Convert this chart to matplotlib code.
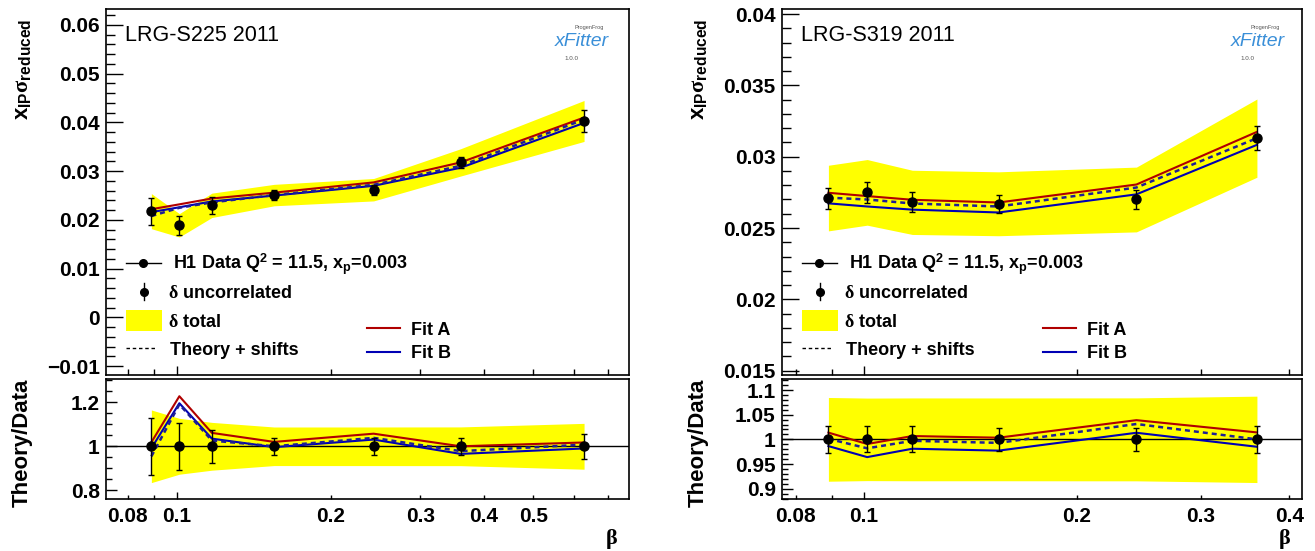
import matplotlib
matplotlib.use("Agg")
import matplotlib.pyplot as plt
import numpy as np
from matplotlib.ticker import FixedLocator, MultipleLocator, FuncFormatter
from matplotlib.transforms import Affine2D
from matplotlib.patches import Rectangle

plt.rcParams['font.family'] = ['Liberation Sans', 'DejaVu Sans']
plt.rcParams['font.weight'] = 'bold'
plt.rcParams['mathtext.fontset'] = 'custom'
plt.rcParams['mathtext.rm'] = 'Liberation Sans:bold'
plt.rcParams['mathtext.bf'] = 'Liberation Sans:bold'
plt.rcParams['mathtext.it'] = 'Liberation Serif'

# left panel: LRG-S225
beta_l = [0.089, 0.101, 0.117, 0.155, 0.243, 0.360, 0.629]
data_l = [0.0218, 0.0189, 0.0230, 0.0251, 0.0262, 0.0318, 0.0403]
unc_l = [0.0028, 0.0020, 0.0017, 0.0010, 0.0010, 0.0012, 0.0023]
tot_l = [0.0036, 0.0024, 0.0025, 0.0022, 0.0023, 0.0028, 0.0042]
fitA_l = [0.0222, 0.0232, 0.0244, 0.0256, 0.0277, 0.0318, 0.0410]
fitB_l = [0.0216, 0.0226, 0.0238, 0.0250, 0.0270, 0.0307, 0.0399]
shift_l = [0.0208, 0.0225, 0.0236, 0.0251, 0.0272, 0.0311, 0.0406]

# right panel: LRG-S319
beta_r = [0.089, 0.101, 0.117, 0.155, 0.243, 0.360]
data_r = [0.0271, 0.0275, 0.0268, 0.0267, 0.0270, 0.0313]
unc_r = [0.00074, 0.00072, 0.0007, 0.00064, 0.00064, 0.00084]
tot_r = [0.0023, 0.0023, 0.00225, 0.00224, 0.00227, 0.00274]
fitA_r = [0.02747, 0.02724, 0.02698, 0.02679, 0.02805, 0.03174]
fitB_r = [0.02673, 0.02651, 0.02629, 0.02609, 0.02736, 0.03083]
shift_r = [0.02713, 0.02700, 0.02672, 0.02651, 0.02784, 0.0313]

xlabels_l = [0.08, 0.1, 0.2, 0.3, 0.4, 0.5]
xlabels_r = [0.08, 0.1, 0.2, 0.3, 0.4]

RED = '#b00000'
BLUE = '#0000b4'
DASH = '#1e1e96'
YEL = '#ffff00'

W, H = 1315, 551
fig = plt.figure(figsize=(W / 100, H / 100), dpi=100)
# reference pixel coords (y down) -> figure
P = Affine2D().scale(1 / W, -1 / H).translate(0, 1) + fig.transFigure


def box(x0, y0, x1, y1):
    return [x0 / W, 1 - y1 / H, (x1 - x0) / W, (y1 - y0) / H]


def yfmt(v, pos):
    return ('%g' % round(v, 6)).replace('-', '\u2212')


def setup_x(ax, xlim, labels, show, maj_len, min_len):
    ax.set_xscale('log')
    ax.set_xlim(*xlim)
    ax.xaxis.set_major_locator(FixedLocator([0.1]))
    ax.xaxis.set_minor_locator(FixedLocator([0.06, 0.07, 0.08, 0.09, 0.2, 0.3, 0.4, 0.5, 0.6, 0.7, 0.8, 0.9]))
    if show:
        f = FuncFormatter(lambda v, p: ('%g' % round(v, 4)) if any(abs(v - l) < 1e-6 for l in labels) else '')
        ax.xaxis.set_major_formatter(f)
        ax.xaxis.set_minor_formatter(f)
    else:
        ax.xaxis.set_major_formatter(FuncFormatter(lambda v, p: ''))
        ax.xaxis.set_minor_formatter(FuncFormatter(lambda v, p: ''))
    ax.tick_params(axis='x', which='major', direction='in', length=maj_len, width=1, pad=5.5, labelsize=15)
    ax.tick_params(axis='x', which='minor', direction='in', length=min_len, width=1, pad=5.5, labelsize=15)


def setup_y(ax, ylim, maj, mnr, maj_len, min_len):
    ax.set_ylim(*ylim)
    ax.yaxis.set_major_locator(MultipleLocator(maj))
    ax.yaxis.set_minor_locator(MultipleLocator(mnr))
    ax.yaxis.set_major_formatter(FuncFormatter(yfmt))
    ax.tick_params(axis='y', which='major', direction='in', length=maj_len, width=1, pad=4.5, labelsize=15)
    ax.tick_params(axis='y', which='minor', direction='in', length=min_len, width=1)
    for s in ax.spines.values():
        s.set_linewidth(1.2)


def panel(x0, x1, beta, data, unc, tot, fitA, fitB, shift, tag, xlim, ylim, ymaj, ymin, rlim, rmaj, rmin, xlabels):
    beta = np.array(beta)
    data = np.array(data)
    unc = np.array(unc)
    tot = np.array(tot)
    fitA = np.array(fitA)
    fitB = np.array(fitB)
    shift = np.array(shift)

    ax = fig.add_axes(box(x0, 9.3, x1, 375))
    ax.fill_between(beta, data - tot, data + tot, color=YEL, lw=0, zorder=1)
    ax.plot(beta, fitA, color=RED, lw=1.5, zorder=3)
    ax.plot(beta, fitB, color=BLUE, lw=1.5, zorder=3)
    ax.plot(beta, shift, color=DASH, lw=1.8, dashes=(2, 1.6), zorder=4)
    ax.errorbar(beta, data, yerr=unc, fmt='o', color='k', ms=6.5, capsize=2.5,
                elinewidth=1, capthick=1, zorder=5)
    setup_x(ax, xlim, xlabels, False, 6.5, 4.5)
    setup_y(ax, ylim, ymaj, ymin, 12, 6.5)

    rx = fig.add_axes(box(x0, 379.3, x1, 499.3))
    rx.fill_between(beta, 1 - tot / data, 1 + tot / data, color=YEL, lw=0, zorder=1)
    rx.axhline(1, color='k', lw=1, zorder=2)
    rx.plot(beta, fitA / data, color=RED, lw=1.5, zorder=3)
    rx.plot(beta, fitB / data, color=BLUE, lw=1.5, zorder=3)
    rx.plot(beta, shift / data, color=DASH, lw=1.8, dashes=(2, 1.6), zorder=4)
    rx.errorbar(beta, np.ones_like(data), yerr=unc / data, fmt='o', color='k', ms=6.5,
                capsize=2.5, elinewidth=1, capthick=1, zorder=5)
    setup_x(rx, xlim, xlabels, True, 5, 3.2)
    setup_y(rx, rlim, rmaj, rmin, 8, 4.3)

    # axis titles
    o = x0 - 106
    fig.text(23 + o, 19, r'$\mathbf{x}_{\mathbf{IP}}\sigma_{\mathbf{reduced}}$', transform=P,
             rotation=90, ha='center', va='top', fontsize=16)
    fig.text(22 + o, 379, 'Theory/Data', transform=P, rotation=90, ha='center', va='top', fontsize=16)
    fig.text(x1 - 11, 539, r'$\beta$', transform=P, ha='right', va='center', fontsize=16)

    fig.text(125 + o, 25, tag, transform=P, ha='left', va='top', fontsize=15.5, fontweight='normal')

    # xFitter logo (text version)
    fig.text(582 + o, 42, 'xFitter', transform=P, ha='center', va='center', fontsize=14,
             fontweight='normal', style='italic', color='#3a8fd8')
    fig.text(589 + o, 27, 'ProgenFrog', transform=P, ha='center', va='center', fontsize=4,
             fontweight='normal', color='#555555')
    fig.text(571 + o, 58, '1.0.0', transform=P, ha='center', va='center', fontsize=4.5,
             fontweight='normal', color='#555555')

    # legend
    fs = 13
    bl = 6.5
    y1, y2, y3, y4 = 262.7, 291.7, 320.3, 348.3
    fig.add_artist(plt.Line2D([126 + o, 161 + o], [y1, y1], transform=P, color='k', lw=1))
    fig.add_artist(plt.Line2D([143.5 + o], [y1], transform=P, color='k', marker='o', ms=5.5))
    fig.text(173 + o, y1 + bl, r'H1 Data Q$^{\mathbf{2}}$ = 11.5, x$_{\mathbf{p}}$=0.003', transform=P,
             ha='left', va='baseline', fontsize=fs)
    fig.add_artist(plt.Line2D([144 + o, 144 + o], [y2 - 8.5, y2 + 8.5], transform=P, color='k', lw=1))
    fig.add_artist(plt.Line2D([144 + o], [y2], transform=P, color='k', marker='o', ms=5.5))
    fig.text(168 + o, y2 + bl, r'$\delta$ uncorrelated', transform=P, ha='left', va='baseline', fontsize=fs)
    fig.add_artist(Rectangle((126 + o, 310), 35.7, 20.7, transform=P, color=YEL, lw=0))
    fig.text(168 + o, y3 + bl, r'$\delta$ total', transform=P, ha='left', va='baseline', fontsize=fs)
    fig.add_artist(plt.Line2D([126 + o, 157 + o], [y4, y4], transform=P, color='k', lw=1, dashes=(2.5, 2)))
    fig.text(170 + o, y4 + bl, 'Theory + shifts', transform=P, ha='left', va='baseline', fontsize=fs)

    fa, fb = 328.3, 351.7
    fig.add_artist(plt.Line2D([366.7 + o, 400 + o], [fa, fa], transform=P, color=RED, lw=1.5))
    fig.text(411 + o, fa + bl, 'Fit A', transform=P, ha='left', va='baseline', fontsize=fs)
    fig.add_artist(plt.Line2D([366.7 + o, 400 + o], [fb, fb], transform=P, color=BLUE, lw=1.5))
    fig.text(411 + o, fb + bl, 'Fit B', transform=P, ha='left', va='baseline', fontsize=fs)


panel(106, 629, beta_l, data_l, unc_l, tot_l, fitA_l, fitB_l, shift_l, 'LRG-S225 2011',
      (0.0725, 0.7706), (-0.0118, 0.0632), 0.01, 0.002, (0.759, 1.3045), 0.2, 0.05, xlabels_l)
panel(782, 1302, beta_r, data_r, unc_r, tot_r, fitA_r, fitB_r, shift_r, 'LRG-S319 2011',
      (0.0765, 0.417), (0.0147, 0.04033), 0.005, 0.001, (0.8785, 1.1217), 0.05, 0.01, xlabels_r)

fig.savefig('out.png', dpi=100)
